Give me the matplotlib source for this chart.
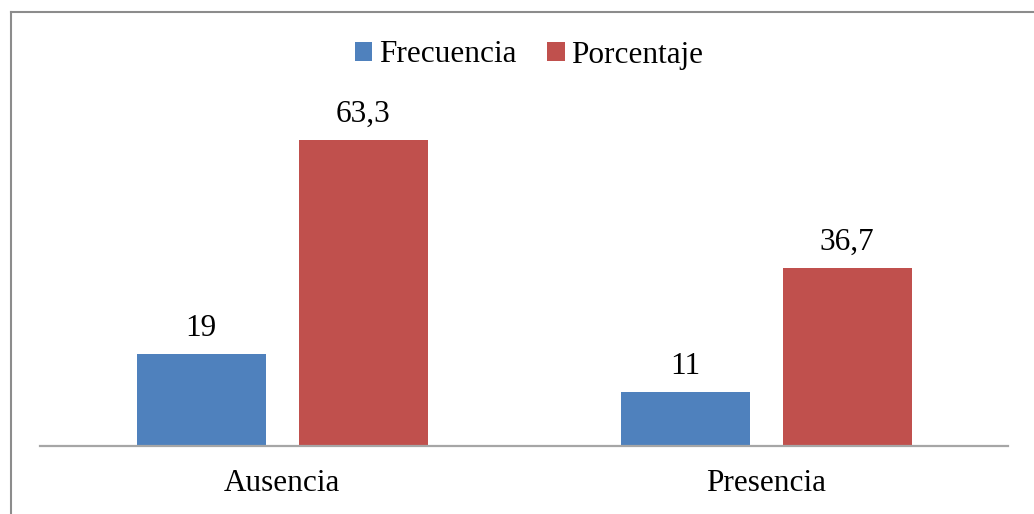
import matplotlib
matplotlib.use("Agg")
import matplotlib.pyplot as plt
from matplotlib.patches import Patch
from matplotlib.lines import Line2D

categories = ["Ausencia", "Presencia"]
series_names = ["Frecuencia", "Porcentaje"]
frecuencia = [19, 11]
porcentaje = [63.3, 36.7]
label_frecuencia = ["19", "11"]
label_porcentaje = ["63,3", "36,7"]

colors = ["#4F81BD", "#C0504D"]
W, H, DPI = 1034, 514, 100
FS = 22.5

plt.rcParams["font.family"] = ["Liberation Serif", "DejaVu Serif"]

fig = plt.figure(figsize=(W / DPI, H / DPI), dpi=DPI)

# plot area in pixel coordinates
x0, x1 = 40, 1008
y_base, y_top = 445.5, 107.5
ax = fig.add_axes([x0 / W, 1 - y_base / H, (x1 - x0) / W, (y_base - y_top) / H])

n = len(categories)
centers = [i + 0.5 for i in range(n)]
bar_w = 129 / 484
gap = 33 / 484
offset = bar_w / 2 + gap / 2

for vals, labels, color, name, sign in [
    (frecuencia, label_frecuencia, colors[0], series_names[0], -1),
    (porcentaje, label_porcentaje, colors[1], series_names[1], 1),
]:
    xs = [c + sign * offset for c in centers]
    bars = ax.bar(xs, vals, width=bar_w, color=color, label=name, zorder=2)
    for b, lab in zip(bars, labels):
        ax.annotate(lab, (b.get_x() + b.get_width() / 2, b.get_height()),
                    xytext=(0, 13), textcoords="offset points",
                    ha="center", va="baseline", fontsize=FS, color="black")

ax.set_xlim(0, n)
ax.set_ylim(0, 70)
ax.set_xticks(centers)
ax.set_xticklabels(categories, fontsize=FS)
ax.tick_params(axis="x", length=0, pad=17)
ax.set_yticks([])
for s in ["top", "right", "left"]:
    ax.spines[s].set_visible(False)
ax.spines["bottom"].set_color("#a6a6a6")
ax.spines["bottom"].set_linewidth(1.6)
ax.spines["bottom"].set_zorder(3)

# legend
handles = [Patch(facecolor=c, edgecolor="none") for c in colors]
fig.legend(handles, series_names, loc="center", bbox_to_anchor=(529 / W, 1 - 55 / H),
           ncol=2, frameon=False, fontsize=FS, handlelength=0.55, handleheight=0.55,
           handletextpad=0.22, columnspacing=1.0, borderpad=0)

# outer chart frame (left and top edges visible)
fig.add_artist(Line2D([10.5 / W, 10.5 / W], [0, 1 - 11.5 / H], transform=fig.transFigure,
                      color="#8c8c8c", lw=1.5))
fig.add_artist(Line2D([10.5 / W, 1], [1 - 11.5 / H, 1 - 11.5 / H], transform=fig.transFigure,
                      color="#8c8c8c", lw=1.5))

fig.savefig("out.png", dpi=DPI, facecolor="white")
